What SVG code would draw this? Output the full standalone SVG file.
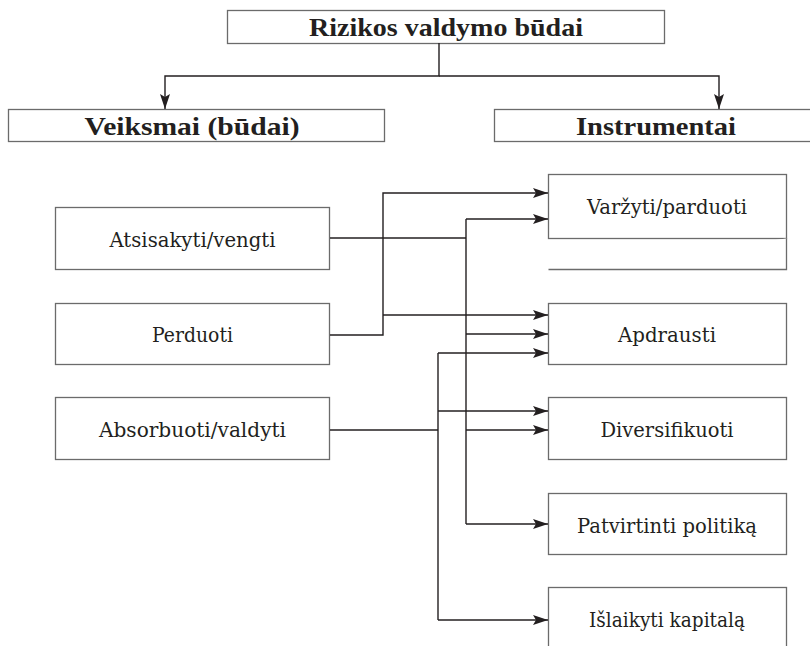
<svg xmlns="http://www.w3.org/2000/svg" width="810" height="646" viewBox="0 0 810 646">
  <style>
    .box { fill: #ffffff; stroke: #6b6b6b; stroke-width: 1.3; }
    .edge { fill: none; stroke: #231f20; stroke-width: 1.4; }
    text { fill: #231f20; text-anchor: middle; }
    .head { font-family: 'Liberation Serif', 'DejaVu Serif', serif; font-weight: bold; font-size: 26px; }
    .label { font-family: 'DejaVu Serif', 'Liberation Serif', serif; font-weight: normal; font-size: 20px; }
  </style>
  <defs>
    <marker id="arrow" markerUnits="userSpaceOnUse" markerWidth="16" markerHeight="10" refX="15" refY="5" orient="auto">
      <path d="M0,0 L15,5 L0,10 L3,5 Z" fill="#231f20"/>
    </marker>
  </defs>
  <rect width="810" height="646" fill="#ffffff"/>

  <!-- headers -->
  <g id="root">
    <rect class="box" x="227.5" y="10.5" width="437" height="33"/>
    <text class="head" x="446" y="36" textLength="274" lengthAdjust="spacingAndGlyphs">Rizikos valdymo būdai</text>
  </g>
  <g id="veiksmai">
    <rect class="box" x="8.5" y="109.5" width="376" height="32"/>
    <text class="head" x="192" y="135" textLength="215" lengthAdjust="spacingAndGlyphs">Veiksmai (būdai)</text>
  </g>
  <g id="instrumentai">
    <rect class="box" x="494.5" y="109.5" width="330" height="32"/>
    <text class="head" x="656" y="135" textLength="160" lengthAdjust="spacingAndGlyphs">Instrumentai</text>
  </g>

  <!-- actions -->
  <g id="atsisakyti">
    <rect class="box" x="55.5" y="207.5" width="274" height="62"/>
    <text class="label" x="192.5" y="247" textLength="166" lengthAdjust="spacingAndGlyphs">Atsisakyti/vengti</text>
  </g>
  <g id="perduoti">
    <rect class="box" x="55.5" y="303.5" width="274" height="61"/>
    <text class="label" x="192.5" y="342" textLength="81" lengthAdjust="spacingAndGlyphs">Perduoti</text>
  </g>
  <g id="absorbuoti">
    <rect class="box" x="55.5" y="397.5" width="274" height="62"/>
    <text class="label" x="192.5" y="437" textLength="187" lengthAdjust="spacingAndGlyphs">Absorbuoti/valdyti</text>
  </g>

  <!-- instruments -->
  <g id="varzyti">
    <rect class="box" x="548.5" y="174.5" width="238" height="64"/>
    <path class="box" fill="none" d="M548.5,269.5 H786.5 V238.5"/>
    <text class="label" x="667" y="214" textLength="160" lengthAdjust="spacingAndGlyphs">Varžyti/parduoti</text>
  </g>
  <g id="apdrausti">
    <rect class="box" x="548.5" y="303.5" width="238" height="61"/>
    <text class="label" x="667" y="342" textLength="98" lengthAdjust="spacingAndGlyphs">Apdrausti</text>
  </g>
  <g id="diversifikuoti">
    <rect class="box" x="548.5" y="397.5" width="238" height="62"/>
    <text class="label" x="667" y="437" textLength="133" lengthAdjust="spacingAndGlyphs">Diversifikuoti</text>
  </g>
  <g id="patvirtinti">
    <rect class="box" x="548.5" y="493.5" width="238" height="61"/>
    <text class="label" x="667" y="533" textLength="180" lengthAdjust="spacingAndGlyphs">Patvirtinti politiką</text>
  </g>
  <g id="islaikyti">
    <rect class="box" x="548.5" y="587.5" width="238" height="70"/>
    <text class="label" x="667" y="627" textLength="156" lengthAdjust="spacingAndGlyphs">Išlaikyti kapitalą</text>
  </g>

  <!-- connectors -->
  <g id="connectors">
    <path class="edge" d="M439,43 V76 H165 V109" marker-end="url(#arrow)"/>
    <path class="edge" d="M439,76 H719 V109" marker-end="url(#arrow)"/>

    <!-- Atsisakyti/vengti bus -->
    <path class="edge" d="M330,238 H466"/>
    <path class="edge" d="M466,219 V524"/>
    <path class="edge" d="M466,219 H548" marker-end="url(#arrow)"/>
    <path class="edge" d="M466,334 H548" marker-end="url(#arrow)"/>
    <path class="edge" d="M466,430 H548" marker-end="url(#arrow)"/>
    <path class="edge" d="M466,524 H548" marker-end="url(#arrow)"/>

    <!-- Perduoti bus -->
    <path class="edge" d="M330,335 H383 V193 H548" marker-end="url(#arrow)"/>
    <path class="edge" d="M383,315 H548" marker-end="url(#arrow)"/>

    <!-- Absorbuoti/valdyti bus -->
    <path class="edge" d="M330,430 H438"/>
    <path class="edge" d="M438,353 V620"/>
    <path class="edge" d="M438,353 H548" marker-end="url(#arrow)"/>
    <path class="edge" d="M438,411 H548" marker-end="url(#arrow)"/>
    <path class="edge" d="M438,620 H548" marker-end="url(#arrow)"/>
  </g>
</svg>
